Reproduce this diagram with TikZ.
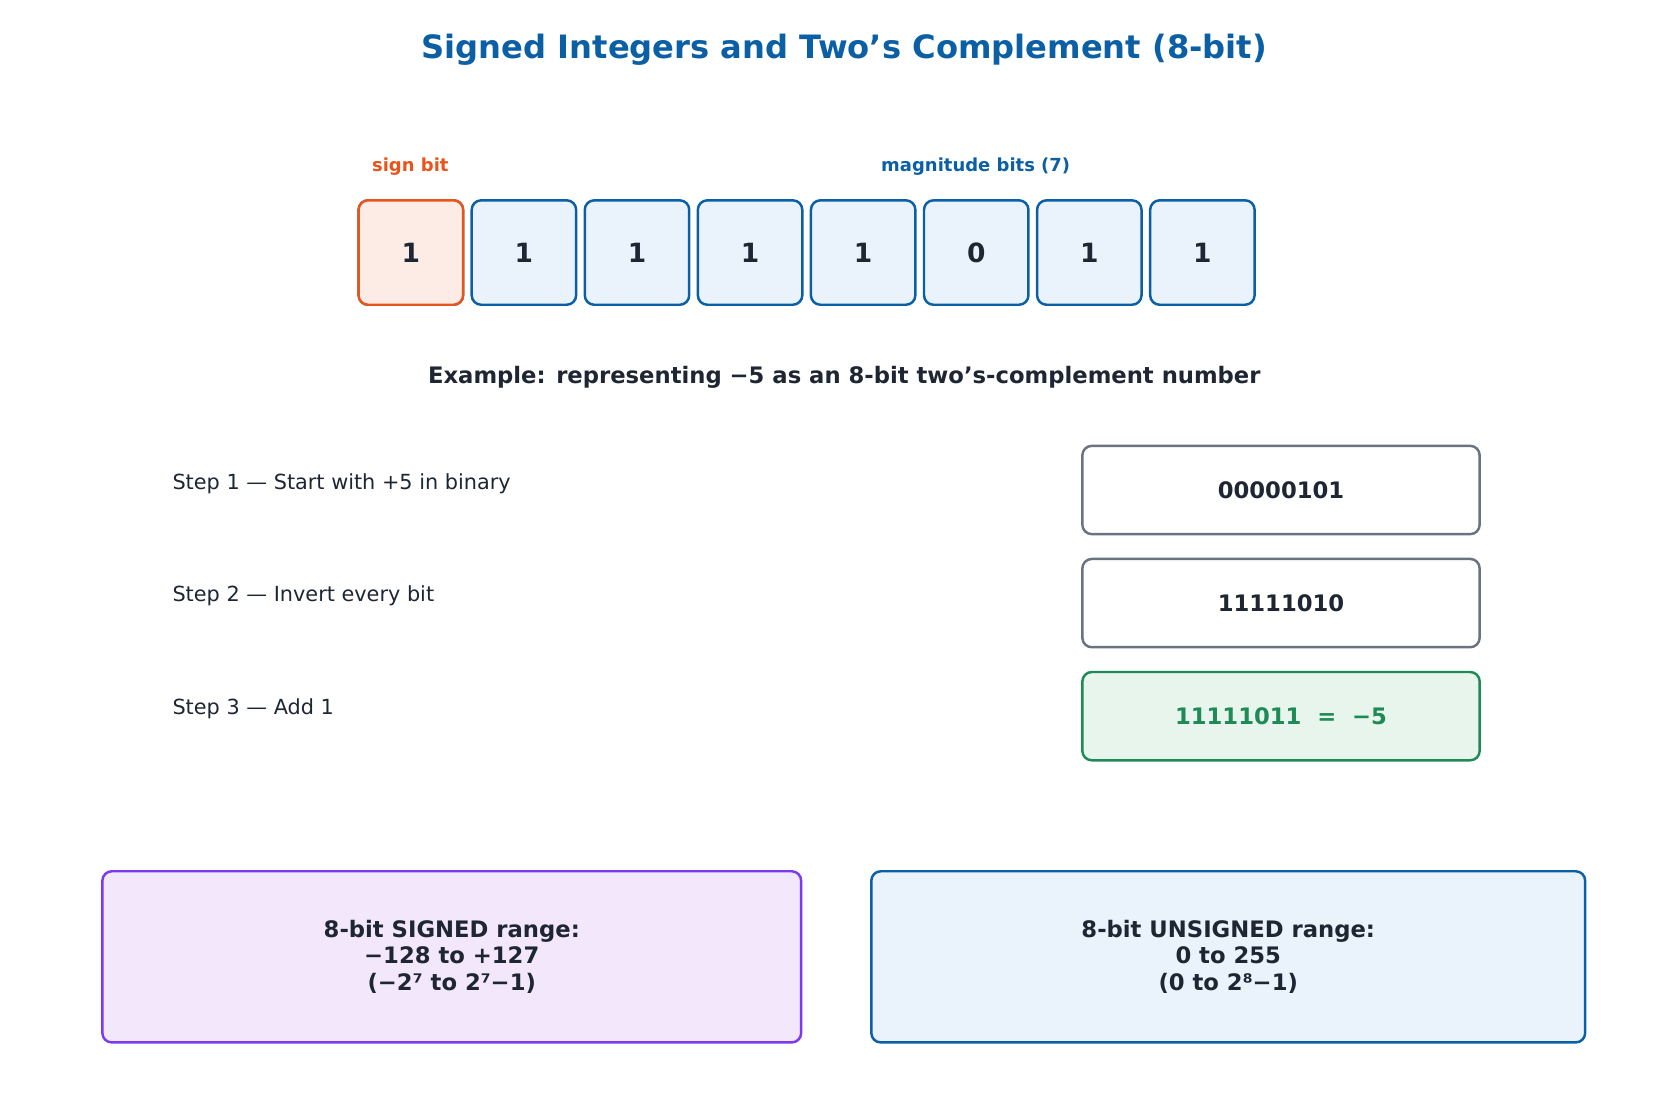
\documentclass[tikz,border=0pt]{standalone}
\usepackage{fontspec}
\setmainfont{DejaVu Sans}
\definecolor{titleblue}{HTML}{0B5FA5}
\definecolor{ink}{HTML}{1F2633}
\definecolor{signorange}{HTML}{E8541C}
\definecolor{signfill}{HTML}{FDECE6}
\definecolor{bitfill}{HTML}{EAF2FB}
\definecolor{stepgray}{HTML}{6B7280}
\definecolor{okgreen}{HTML}{1E8A55}
\definecolor{okfill}{HTML}{E8F5EC}
\definecolor{rangepurple}{HTML}{7C3AED}
\definecolor{rangefill}{HTML}{F3E8FB}
\tikzset{
  bit/.style={draw=titleblue, fill=bitfill, line width=1.3pt, rounded corners=5pt,
    minimum width=1.94cm, minimum height=1.94cm, text=ink, font=\bfseries\fontsize{14}{16}\selectfont},
  stepbox/.style={draw=stepgray, fill=white, line width=1.3pt, rounded corners=5pt,
    minimum width=7.38cm, minimum height=1.64cm, text=ink, font=\bfseries\fontsize{12}{14}\selectfont},
  steplabel/.style={anchor=west, text=ink, font=\fontsize{11}{13}\selectfont},
  rangebox/.style={line width=1.3pt, rounded corners=5pt, minimum height=3.18cm, align=center,
    text=ink, font=\bfseries\fontsize{12}{14}\selectfont},
}
\begin{document}
\begin{tikzpicture}[x=0.02cm, y=-0.02cm]
  \useasboundingbox (0,0) rectangle (1560,1031);
  \node[text=titleblue, font=\bfseries\fontsize{17}{20}\selectfont] (title) at (784,46)
    {Signed Integers and Two's Complement (8-bit)};
  % bit row
  \foreach \b [count=\i from 0] in {1,1,1,1,1,0,1,1}
    \node[bit] (b\i) at ({381.5+105*\i},234.5) {\b};
  \node[bit, draw=signorange, fill=signfill] at (b0) {1};
  \node[text=signorange, font=\bfseries\fontsize{9.5}{11}\selectfont] (signlbl) at (381,155) {sign bit};
  \node[text=titleblue, font=\bfseries\fontsize{9.5}{11}\selectfont] (maglbl) at (906,155) {magnitude bits (7)};
  \node[text=ink, font=\bfseries\fontsize{12}{14}\selectfont] (example) at (784,350)
    {Example: representing −5 as an 8-bit two's-complement number};
  % steps
  \node[steplabel] (s1) at (154,449) {Step 1 — Start with +5 in binary};
  \node[steplabel] (s2) at (154,553) {Step 2 — Invert every bit};
  \node[steplabel] (s3) at (154,658) {Step 3 — Add 1};
  \node[stepbox] (v1) at (1189.5,455) {00000101};
  \node[stepbox] (v2) at (1189.5,560) {11111010};
  \node[stepbox, draw=okgreen, fill=okfill, text=okgreen] (v3) at (1189.5,665) {11111011~~=~~−5};
  % ranges
  \node[rangebox, draw=rangepurple, fill=rangefill, minimum width=12.98cm] (signed) at (419.5,888.5)
    {8-bit SIGNED range:\\−128 to +127\\(−2⁷ to 2⁷−1)};
  \node[rangebox, draw=titleblue, fill=bitfill, minimum width=13.26cm] (unsigned) at (1140.5,888.5)
    {8-bit UNSIGNED range:\\0 to 255\\(0 to 2⁸−1)};
\end{tikzpicture}
\end{document}
